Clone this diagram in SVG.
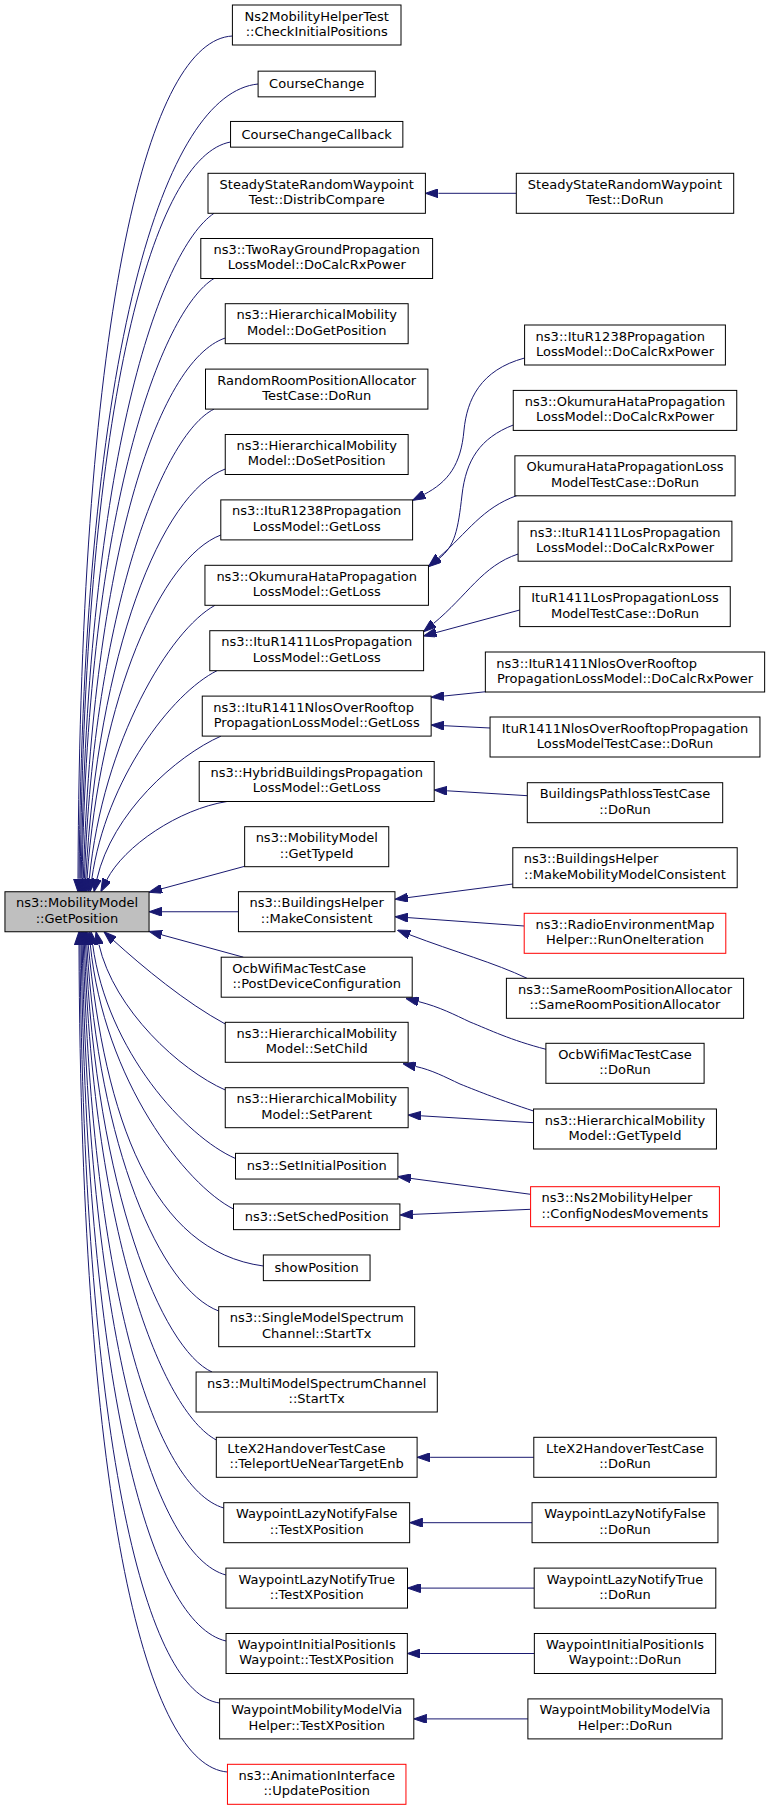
<svg xmlns="http://www.w3.org/2000/svg" width="771" height="1809" viewBox="0 0 771 1809">
<style>
.node rect{fill:#fff;stroke:#000;stroke-width:1}
.main rect{fill:#bfbfbf}
.red rect{stroke:#ff0000}
text{font-family:"DejaVu Sans","Liberation Sans",sans-serif;font-size:13px;fill:#000}
.c{text-anchor:middle}
.edges path{fill:none;stroke:#191970;stroke-width:1;marker-end:url(#ah)}
</style>
<defs>
<marker id="ah" viewBox="0 0 13 9" refX="0" refY="4.5" markerWidth="13" markerHeight="9" markerUnits="userSpaceOnUse" orient="auto">
<path d="M0,0 L13,4.5 L0,9 z" fill="#191970" stroke="#191970" stroke-width="1"/>
</marker>
</defs>
<rect width="771" height="1809" fill="#fff"/>
<g class="edges" id="edges">
<path d="M232.4,36 C150,40 80,300 78,878.75"/>
<path d="M258.1,84 C165,93 83,344 79.1,878.75"/>
<path d="M230.55,142 C154,156 85,397 80.2,878.75"/>
<path d="M214,213.3 C160,250 87,458 81.2,878.75"/>
<path d="M214,278.5 C161,311 88,508 82.1,878.75"/>
<path d="M225.25,338 C157,361 93,559 83.3,878.75"/>
<path d="M214,409.1 C162,435 94,612 84.4,878.75"/>
<path d="M225.25,469 C161,493 98,653 85.7,878.75"/>
<path d="M220.8,535 C161,558 100,697 87,878.8"/>
<path d="M215,605.3 C170,630 103,740 89.3,878.8"/>
<path d="M217,670.7 C172,693 106,779 91.8,878.9"/>
<path d="M221,736.1 C176,756 112,813 96.9,879.1"/>
<path d="M227,801.5 C179,809 124,846 106.7,880"/>
<path d="M244.65,866.3 L161.6,888.8"/>
<path d="M238.45,911.75 L162.05,911.75"/>
<path d="M243.4,957.2 L161.6,934.8"/>
<path d="M225.25,1024 C185.4,1002.4 143.2,967.3 113.6,940.5"/>
<path d="M225.25,1090 C180,1070 114,1010 98.9,944.4"/>
<path d="M235.5,1158.5 C186,1137 107,1051 92.7,944.6"/>
<path d="M233.5,1209 C186,1185 104,1081 90.3,944.7"/>
<path d="M263.35,1266 C152,1251 105,1119 88.2,944.7"/>
<path d="M218.7,1311 C160,1289 99,1147 86.8,944.7"/>
<path d="M212,1372 C162,1349.5 96,1190 85.6,944.7"/>
<path d="M216.3,1440 C162,1411 94,1237 84.4,944.7"/>
<path d="M223.75,1508 C156,1488 92,1292 83.3,944.7"/>
<path d="M225.9,1575 C156,1556 89,1344 82.2,944.7"/>
<path d="M226.05,1641 C152,1624 86.5,1399 81.2,944.7"/>
<path d="M219.6,1703 C148,1694 84,1456 80,944.7"/>
<path d="M227.45,1772 C149,1766 81,1519 79,944.7"/>
<path d="M516.3,193.3 L438.4,193.3"/>
<path d="M524.6,358 C480,370 467,400 464,430 C461,465 448,482 424.2,494.4"/>
<path d="M513.25,425 C480,438 466,460 462,495 C458,530 455,546 439,558.6"/>
<path d="M517,495.5 C482,508 468,532 438.5,557.7"/>
<path d="M518.1,554 C482,566 468,595 433.5,623.5"/>
<path d="M519.75,610 L436.1,632.6"/>
<path d="M486,691.7 L444.1,696"/>
<path d="M490.05,728 L444.1,725.7"/>
<path d="M527.3,795.7 L447.2,790.8"/>
<path d="M512.8,884 L407.85,897.6"/>
<path d="M524.2,926 L407.9,917.6"/>
<path d="M527,978.3 C495,963 455,952 409.5,934.7"/>
<path d="M546,1049.3 C510,1040 490,1030 470,1022 C455,1015 440,1007 418.3,1001.5"/>
<path d="M533.55,1111 C500,1100 480,1092 460,1084 C445,1077 432,1070 415.5,1066.4"/>
<path d="M533.55,1122.7 L421.1,1115.8"/>
<path d="M530.6,1194.3 L410.8,1178.4"/>
<path d="M530.6,1209.3 L412.9,1214.4"/>
<path d="M533.8,1457.3 L430.1,1457.3"/>
<path d="M532.05,1522.7 L422.65,1522.7"/>
<path d="M534.2,1588.1 L420.5,1588.1"/>
<path d="M534.35,1653.5 L420.35,1653.5"/>
<path d="M527.9,1718.9 L426.8,1718.9"/>
</g>
<g id="n_main" class="node main"><rect x="4.95" y="891.75" width="144.1" height="40"/><text class="c" x="77" y="907.25">ns3::MobilityModel</text><text class="c" x="77" y="922.65">::GetPosition</text></g>
<g id="n1" class="node"><rect x="232.4" y="5" width="168.6" height="40"/><text class="c" x="316.7" y="20.5">Ns2MobilityHelperTest</text><text class="c" x="316.7" y="35.9">::CheckInitialPositions</text></g>
<g id="n2" class="node"><rect x="258.1" y="71.15" width="117.2" height="25.7"/><text class="c" x="316.7" y="88.2">CourseChange</text></g>
<g id="n3" class="node"><rect x="230.55" y="121.45" width="172.3" height="25.7"/><text class="c" x="316.7" y="138.5">CourseChangeCallback</text></g>
<g id="n4" class="node"><rect x="208" y="173.3" width="217.4" height="40"/><text class="c" x="316.7" y="188.8">SteadyStateRandomWaypoint</text><text class="c" x="316.7" y="204.2">Test::DistribCompare</text></g>
<g id="n5" class="node"><rect x="200.8" y="238.5" width="231.8" height="40"/><text class="c" x="316.7" y="254">ns3::TwoRayGroundPropagation</text><text class="c" x="316.7" y="269.4">LossModel::DoCalcRxPower</text></g>
<g id="n6" class="node"><rect x="225.25" y="303.7" width="182.9" height="40"/><text class="c" x="316.7" y="319.2">ns3::HierarchicalMobility</text><text class="c" x="316.7" y="334.6">Model::DoGetPosition</text></g>
<g id="n7" class="node"><rect x="205.5" y="369.1" width="222.4" height="40"/><text class="c" x="316.7" y="384.6">RandomRoomPositionAllocator</text><text class="c" x="316.7" y="400">TestCase::DoRun</text></g>
<g id="n8" class="node"><rect x="225.25" y="434.5" width="182.9" height="40"/><text class="c" x="316.7" y="450">ns3::HierarchicalMobility</text><text class="c" x="316.7" y="465.4">Model::DoSetPosition</text></g>
<g id="n9" class="node"><rect x="220.8" y="499.9" width="191.8" height="40"/><text class="c" x="316.7" y="515.4">ns3::ItuR1238Propagation</text><text class="c" x="316.7" y="530.8">LossModel::GetLoss</text></g>
<g id="n10" class="node"><rect x="204.95" y="565.3" width="223.5" height="40"/><text class="c" x="316.7" y="580.8">ns3::OkumuraHataPropagation</text><text class="c" x="316.7" y="596.2">LossModel::GetLoss</text></g>
<g id="n11" class="node"><rect x="209.8" y="630.7" width="213.8" height="40"/><text class="c" x="316.7" y="646.2">ns3::ItuR1411LosPropagation</text><text class="c" x="316.7" y="661.6">LossModel::GetLoss</text></g>
<g id="n12" class="node"><rect x="202.25" y="696.1" width="228.9" height="40"/><text x="213.25" y="711.6">ns3::ItuR1411NlosOverRooftop</text><text class="c" x="316.7" y="727">PropagationLossModel::GetLoss</text></g>
<g id="n13" class="node"><rect x="199.2" y="761.5" width="235" height="40"/><text class="c" x="316.7" y="777">ns3::HybridBuildingsPropagation</text><text class="c" x="316.7" y="792.4">LossModel::GetLoss</text></g>
<g id="n14" class="node"><rect x="244.65" y="826.7" width="144.1" height="40"/><text class="c" x="316.7" y="842.2">ns3::MobilityModel</text><text class="c" x="316.7" y="857.6">::GetTypeId</text></g>
<g id="n15" class="node"><rect x="238.45" y="891.7" width="156.5" height="40"/><text class="c" x="316.7" y="907.2">ns3::BuildingsHelper</text><text class="c" x="316.7" y="922.6">::MakeConsistent</text></g>
<g id="n16" class="node"><rect x="221.2" y="957.2" width="191" height="40"/><text x="232.2" y="972.7">OcbWifiMacTestCase</text><text class="c" x="316.7" y="988.1">::PostDeviceConfiguration</text></g>
<g id="n17" class="node"><rect x="225.25" y="1022.3" width="182.9" height="40"/><text class="c" x="316.7" y="1037.8">ns3::HierarchicalMobility</text><text class="c" x="316.7" y="1053.2">Model::SetChild</text></g>
<g id="n18" class="node"><rect x="225.25" y="1087.7" width="182.9" height="40"/><text class="c" x="316.7" y="1103.2">ns3::HierarchicalMobility</text><text class="c" x="316.7" y="1118.6">Model::SetParent</text></g>
<g id="n19" class="node"><rect x="235.5" y="1153.35" width="162.4" height="25.7"/><text class="c" x="316.7" y="1170.4">ns3::SetInitialPosition</text></g>
<g id="n20" class="node"><rect x="233.5" y="1203.95" width="166.4" height="25.7"/><text class="c" x="316.7" y="1221">ns3::SetSchedPosition</text></g>
<g id="n21" class="node"><rect x="263.35" y="1254.95" width="106.7" height="25.7"/><text class="c" x="316.7" y="1272">showPosition</text></g>
<g id="n22" class="node"><rect x="218.7" y="1306.7" width="196" height="40"/><text class="c" x="316.7" y="1322.2">ns3::SingleModelSpectrum</text><text class="c" x="316.7" y="1337.6">Channel::StartTx</text></g>
<g id="n23" class="node"><rect x="196.1" y="1372" width="241.2" height="40"/><text class="c" x="316.7" y="1387.5">ns3::MultiModelSpectrumChannel</text><text class="c" x="316.7" y="1402.9">::StartTx</text></g>
<g id="n24" class="node"><rect x="216.3" y="1437.3" width="200.8" height="40"/><text x="227.3" y="1452.8">LteX2HandoverTestCase</text><text class="c" x="316.7" y="1468.2">::TeleportUeNearTargetEnb</text></g>
<g id="n25" class="node"><rect x="223.75" y="1502.7" width="185.9" height="40"/><text class="c" x="316.7" y="1518.2">WaypointLazyNotifyFalse</text><text class="c" x="316.7" y="1533.6">::TestXPosition</text></g>
<g id="n26" class="node"><rect x="225.9" y="1568.1" width="181.6" height="40"/><text class="c" x="316.7" y="1583.6">WaypointLazyNotifyTrue</text><text class="c" x="316.7" y="1599">::TestXPosition</text></g>
<g id="n27" class="node"><rect x="226.05" y="1633.5" width="181.3" height="40"/><text class="c" x="316.7" y="1649">WaypointInitialPositionIs</text><text class="c" x="316.7" y="1664.4">Waypoint::TestXPosition</text></g>
<g id="n28" class="node"><rect x="219.6" y="1698.9" width="194.2" height="40"/><text class="c" x="316.7" y="1714.4">WaypointMobilityModelVia</text><text class="c" x="316.7" y="1729.8">Helper::TestXPosition</text></g>
<g id="n29" class="node red"><rect x="227.45" y="1764.3" width="178.5" height="40"/><text class="c" x="316.7" y="1779.8">ns3::AnimationInterface</text><text class="c" x="316.7" y="1795.2">::UpdatePosition</text></g>
<g id="na" class="node"><rect x="516.3" y="173.3" width="217.4" height="40"/><text class="c" x="625" y="188.8">SteadyStateRandomWaypoint</text><text class="c" x="625" y="204.2">Test::DoRun</text></g>
<g id="nb" class="node"><rect x="524.6" y="325" width="200.8" height="40"/><text x="535.6" y="340.5">ns3::ItuR1238Propagation</text><text class="c" x="625" y="355.9">LossModel::DoCalcRxPower</text></g>
<g id="nc" class="node"><rect x="513.25" y="390.4" width="223.5" height="40"/><text class="c" x="625" y="405.9">ns3::OkumuraHataPropagation</text><text class="c" x="625" y="421.3">LossModel::DoCalcRxPower</text></g>
<g id="nd" class="node"><rect x="514.9" y="455.8" width="220.2" height="40"/><text class="c" x="625" y="471.3">OkumuraHataPropagationLoss</text><text class="c" x="625" y="486.7">ModelTestCase::DoRun</text></g>
<g id="ne" class="node"><rect x="518.1" y="521.2" width="213.8" height="40"/><text class="c" x="625" y="536.7">ns3::ItuR1411LosPropagation</text><text class="c" x="625" y="552.1">LossModel::DoCalcRxPower</text></g>
<g id="nf" class="node"><rect x="519.75" y="586.6" width="210.5" height="40"/><text class="c" x="625" y="602.1">ItuR1411LosPropagationLoss</text><text class="c" x="625" y="617.5">ModelTestCase::DoRun</text></g>
<g id="ng" class="node"><rect x="485.35" y="652" width="279.3" height="40"/><text x="496.35" y="667.5">ns3::ItuR1411NlosOverRooftop</text><text class="c" x="625" y="682.9">PropagationLossModel::DoCalcRxPower</text></g>
<g id="nh" class="node"><rect x="490.05" y="717" width="269.9" height="40"/><text class="c" x="625" y="732.5">ItuR1411NlosOverRooftopPropagation</text><text class="c" x="625" y="747.9">LossModelTestCase::DoRun</text></g>
<g id="ni" class="node"><rect x="527.3" y="782.7" width="195.4" height="40"/><text class="c" x="625" y="798.2">BuildingsPathlossTestCase</text><text class="c" x="625" y="813.6">::DoRun</text></g>
<g id="nj" class="node"><rect x="512.8" y="847.7" width="224.4" height="40"/><text x="523.8" y="863.2">ns3::BuildingsHelper</text><text class="c" x="625" y="878.6">::MakeMobilityModelConsistent</text></g>
<g id="nk" class="node red"><rect x="524.2" y="913.3" width="201.6" height="40"/><text class="c" x="625" y="928.8">ns3::RadioEnvironmentMap</text><text class="c" x="625" y="944.2">Helper::RunOneIteration</text></g>
<g id="nl" class="node"><rect x="506.4" y="978.3" width="237.2" height="40"/><text class="c" x="625" y="993.8">ns3::SameRoomPositionAllocator</text><text class="c" x="625" y="1009.2">::SameRoomPositionAllocator</text></g>
<g id="nm" class="node"><rect x="545.9" y="1043.3" width="158.2" height="40"/><text class="c" x="625" y="1058.8">OcbWifiMacTestCase</text><text class="c" x="625" y="1074.2">::DoRun</text></g>
<g id="nn" class="node"><rect x="533.55" y="1109" width="182.9" height="40"/><text class="c" x="625" y="1124.5">ns3::HierarchicalMobility</text><text class="c" x="625" y="1139.9">Model::GetTypeId</text></g>
<g id="no" class="node red"><rect x="530.6" y="1186.7" width="188.8" height="40"/><text x="541.6" y="1202.2">ns3::Ns2MobilityHelper</text><text class="c" x="625" y="1217.6">::ConfigNodesMovements</text></g>
<g id="np" class="node"><rect x="533.8" y="1437.3" width="182.4" height="40"/><text class="c" x="625" y="1452.8">LteX2HandoverTestCase</text><text class="c" x="625" y="1468.2">::DoRun</text></g>
<g id="nq" class="node"><rect x="532.05" y="1502.7" width="185.9" height="40"/><text class="c" x="625" y="1518.2">WaypointLazyNotifyFalse</text><text class="c" x="625" y="1533.6">::DoRun</text></g>
<g id="nr" class="node"><rect x="534.2" y="1568.1" width="181.6" height="40"/><text class="c" x="625" y="1583.6">WaypointLazyNotifyTrue</text><text class="c" x="625" y="1599">::DoRun</text></g>
<g id="ns" class="node"><rect x="534.35" y="1633.5" width="181.3" height="40"/><text class="c" x="625" y="1649">WaypointInitialPositionIs</text><text class="c" x="625" y="1664.4">Waypoint::DoRun</text></g>
<g id="nt" class="node"><rect x="527.9" y="1698.9" width="194.2" height="40"/><text class="c" x="625" y="1714.4">WaypointMobilityModelVia</text><text class="c" x="625" y="1729.8">Helper::DoRun</text></g>
</svg>
